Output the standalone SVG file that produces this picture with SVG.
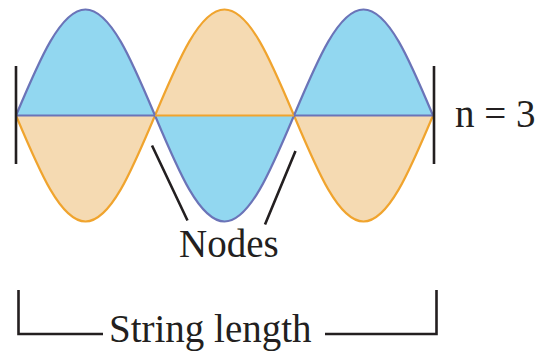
<svg xmlns="http://www.w3.org/2000/svg" width="541" height="354" viewBox="0 0 541 354">
<style>
.bf{fill:#92D7F0;stroke:none}
.of{fill:#F5DAB2;stroke:none}
.bs{fill:none;stroke:#6B74B8;stroke-width:2.2}
.os{fill:none;stroke:#F0A42E;stroke-width:2.2}
.k{fill:none;stroke:#231F20;stroke-width:2.6}
.t{font-family:"Liberation Serif","Times New Roman",serif;font-size:39px;fill:#231F20}
</style>
<rect width="541" height="354" fill="#fff"/>
<g id="wave">
<path class="bf" d="M16,115.5 C38.67,61.7 60.35,9.5 85.5,9.5 C110.65,9.5 132.33,61.7 155,115.5 C177.67,169.3 199.35,221.5 224.5,221.5 C249.65,221.5 271.33,169.3 294,115.5 C316.67,61.7 338.35,9.5 363.5,9.5 C388.65,9.5 410.33,61.7 433,115.5 Z"/>
<path class="of" d="M16,115.5 C38.67,169.3 60.35,221.5 85.5,221.5 C110.65,221.5 132.33,169.3 155,115.5 C177.67,61.7 199.35,9.5 224.5,9.5 C249.65,9.5 271.33,61.7 294,115.5 C316.67,169.3 338.35,221.5 363.5,221.5 C388.65,221.5 410.33,169.3 433,115.5 Z"/>
<path class="os" d="M16,115.5 C38.67,169.3 60.35,221.5 85.5,221.5 C110.65,221.5 132.33,169.3 155,115.5 C177.67,61.7 199.35,9.5 224.5,9.5 C249.65,9.5 271.33,61.7 294,115.5 C316.67,169.3 338.35,221.5 363.5,221.5 C388.65,221.5 410.33,169.3 433,115.5"/>
<path class="bs" d="M16,115.5 C38.67,61.7 60.35,9.5 85.5,9.5 C110.65,9.5 132.33,61.7 155,115.5 C177.67,169.3 199.35,221.5 224.5,221.5 C249.65,221.5 271.33,169.3 294,115.5 C316.67,61.7 338.35,9.5 363.5,9.5 C388.65,9.5 410.33,61.7 433,115.5"/>
<path class="bs" d="M16,115.5 H155 M294,115.5 H433"/>
<path class="os" d="M155,115.5 H294"/>
</g>
<g id="ends">
<path class="k" d="M16,66 V164 M434,66 V164"/>
</g>
<g id="connectors">
<path class="k" d="M152,145.5 L187.5,220.5 M295.5,151 L265,224.5"/>
<path class="k" d="M18.5,290 V334 H103 M325,334 H436.5 V290"/>
</g>
<g id="label-nodes"><text class="t" x="179" y="257">Nodes</text></g>
<g id="label-n"><text class="t" x="455" y="127">n = 3</text></g>
<g id="label-length"><text class="t" x="109" y="342">String length</text></g>
</svg>
